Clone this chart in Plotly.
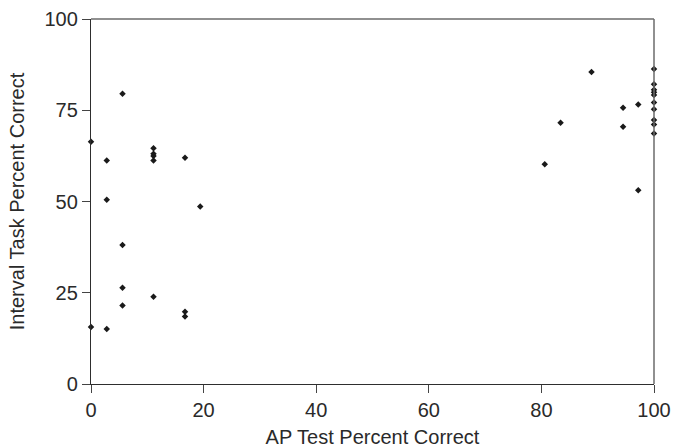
import plotly.graph_objects as go

# AP test score (x) vs interval task score (y), percent correct
ap_test = [0, 0,
           2.8, 2.8, 2.8,
           5.6, 5.6, 5.6, 5.6,
           11.1, 11.1, 11.1, 11.1, 11.1,
           16.7, 16.7, 16.7,
           19.4,
           80.6, 83.4, 88.9,
           94.5, 94.5, 97.2, 97.2,
           100, 100, 100, 100, 100, 100, 100, 100, 100, 100]
interval_task = [66.4, 15.6,
                 61.2, 50.5, 15.1,
                 79.5, 38.1, 26.4, 21.5,
                 64.6, 63.1, 62.5, 61.2, 23.9,
                 62.0, 19.8, 18.5,
                 48.6,
                 60.2, 71.6, 85.5,
                 75.7, 70.5, 76.6, 53.1,
                 86.3, 82.1, 80.6, 79.9, 79.2, 77.1, 75.3, 72.3, 71.1, 68.6]

x_ticks = [0, 20, 40, 60, 80, 100]
y_ticks = [0, 25, 50, 75, 100]

text_color = "#2a2a2a"

fig = go.Figure(
    go.Scatter(
        x=ap_test,
        y=interval_task,
        mode="markers",
        marker=dict(symbol="diamond", size=5, color="#1a1a1a", line=dict(width=0)),
        showlegend=False,
        cliponaxis=False,
    )
)

axis_style = dict(
    showgrid=False,
    zeroline=False,
    showline=True,
    linecolor="#2e2e2e",
    linewidth=1.3,
    ticks="outside",
    ticklen=8,
    tickwidth=1,
    tickcolor="#444444",
    tickfont=dict(size=20, color=text_color),
    automargin=False,
)

fig.update_xaxes(
    range=[0, 100],
    tickvals=x_ticks,
    title=dict(text="AP Test Percent Correct", font=dict(size=20, color=text_color), standoff=10),
    **axis_style,
)
fig.update_yaxes(
    range=[0, 100],
    tickvals=y_ticks,
    title=dict(text="Interval Task Percent Correct", font=dict(size=20, color=text_color), standoff=14),
    **axis_style,
)

# lighter frame on the top and right edges
for x0, y0, x1, y1 in [(0, 1, 1, 1), (1, 0, 1, 1)]:
    fig.add_shape(type="line", xref="paper", yref="paper", x0=x0, y0=y0, x1=x1, y1=y1,
                  line=dict(color="#6b6b6b", width=1.5), layer="above")

fig.update_layout(
    width=673,
    height=448,
    margin=dict(l=91, r=19, t=19, b=64),
    paper_bgcolor="white",
    plot_bgcolor="white",
    font=dict(family="Liberation Sans, Arial, sans-serif"),
)

fig.write_html("out.html")
